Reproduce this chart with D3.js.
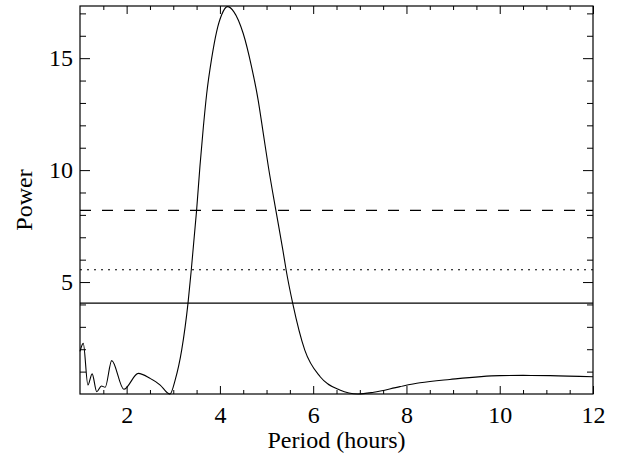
<!DOCTYPE html>
<html>
<head>
<meta charset="utf-8">
<script src="https://cdn.jsdelivr.net/npm/d3@7"></script>
<style>
  html, body { margin: 0; padding: 0; background: #fff; overflow: hidden; }
  svg { display: block; }
</style>
</head>
<body>
<div id="chart"></div>
<script>
// periodogram
var period = [1.00, 1.07, 1.17, 1.26, 1.36, 1.46, 1.54, 1.68, 1.94, 2.25, 2.50, 2.72, 2.89, 2.93,
  3.04, 3.18, 3.316, 3.386, 3.50, 3.573, 3.644, 3.716, 3.824, 3.931, 4.04, 4.16, 4.30, 4.50,
  4.68, 4.82, 4.93, 5.04, 5.20, 5.35, 5.42, 5.56, 5.82, 6.15, 6.57, 6.96, 7.30, 7.86, 8.29,
  8.93, 10.0, 10.5, 11.08, 12.0];
var power = [1.90, 2.26, 0.40, 0.90, 0.10, 0.36, 0.30, 1.49, 0.21, 0.92, 0.70, 0.40, 0.03, 0.00,
  0.62, 1.96, 4.06, 5.54, 8.20, 10.20, 11.90, 13.40, 15.00, 16.20, 16.95, 17.30, 17.07, 16.10,
  14.60, 13.13, 11.64, 10.14, 8.20, 6.43, 5.54, 4.06, 1.96, 0.77, 0.18, 0.00, 0.08, 0.33, 0.50,
  0.65, 0.82, 0.83, 0.82, 0.77];

// significance levels
var levels = [8.2, 5.55, 4.06];
var levelDash = ["11,11", "2,5", null];

var xMajor = [2, 4, 6, 8, 10, 12];
var xMinor = [1.5, 2.5, 3, 3.5, 4.5, 5, 5.5, 6.5, 7, 7.5, 8.5, 9, 9.5, 10.5, 11, 11.5];
var yMajor = [5, 10, 15];
var yMinor = [1, 2, 3, 4, 6, 7, 8, 9, 11, 12, 13, 14, 16, 17];

var width = 617, height = 455;
var margin = { top: 6, right: 24, bottom: 61, left: 80 },
    innerWidth = width - margin.left - margin.right,
    innerHeight = height - margin.top - margin.bottom;
var serif = "Liberation Serif";

var svg = d3.select("#chart").append("svg")
  .attr("width", width)
  .attr("height", height)
  .attr("font-family", serif);

var g = svg.append("g")
  .attr("transform", "translate(" + margin.left + "," + margin.top + ")");

var x = d3.scaleLinear().domain([1, 12]).range([0, innerWidth]);
var y = d3.scaleLinear().domain([0, 17.33]).range([innerHeight, 0]);

function tidy(sel) {
  sel.attr("font-family", serif).attr("font-size", 24);
  sel.select(".domain").remove();
  sel.selectAll("line").attr("stroke", "#000").attr("stroke-width", 1);
  sel.selectAll("text").attr("fill", "#000");
}
function bare(sel) {
  tidy(sel);
  sel.selectAll("text").remove();
}

// bottom
g.append("g").attr("transform", "translate(0," + innerHeight + ")")
  .call(d3.axisBottom(x).tickValues(xMajor).tickSize(-8).tickSizeOuter(0).tickPadding(12).tickFormat(d3.format("d")))
  .call(tidy);
g.append("g").attr("transform", "translate(0," + innerHeight + ")")
  .call(d3.axisBottom(x).tickValues(xMinor).tickSize(-4).tickSizeOuter(0))
  .call(bare);
// top
g.append("g")
  .call(d3.axisTop(x).tickValues(xMajor).tickSize(-8).tickSizeOuter(0))
  .call(bare);
g.append("g")
  .call(d3.axisTop(x).tickValues(xMinor).tickSize(-4).tickSizeOuter(0))
  .call(bare);
// left
g.append("g")
  .call(d3.axisLeft(y).tickValues(yMajor).tickSize(-10).tickSizeOuter(0).tickPadding(7).tickFormat(d3.format("d")))
  .call(tidy);
g.append("g")
  .call(d3.axisLeft(y).tickValues(yMinor).tickSize(-6).tickSizeOuter(0))
  .call(bare);
// right
g.append("g").attr("transform", "translate(" + innerWidth + ",0)")
  .call(d3.axisRight(y).tickValues(yMajor).tickSize(-10).tickSizeOuter(0))
  .call(bare);
g.append("g").attr("transform", "translate(" + innerWidth + ",0)")
  .call(d3.axisRight(y).tickValues(yMinor).tickSize(-6).tickSizeOuter(0))
  .call(bare);

// threshold lines
g.selectAll(".level")
  .data(levels)
  .enter()
  .append("line")
    .attr("class", "level")
    .attr("x1", 0)
    .attr("x2", innerWidth)
    .attr("y1", d => y(d))
    .attr("y2", d => y(d))
    .attr("stroke", "#000")
    .attr("stroke-width", 1.2)
    .attr("stroke-dasharray", (d, i) => levelDash[i]);

var pts = period.map((p, i) => [p, power[i]]);
var line = d3.line()
  .x(d => x(d[0]))
  .y(d => y(d[1]))
  .curve(d3.curveMonotoneX);

g.append("path")
  .datum(pts)
  .attr("fill", "none")
  .attr("stroke", "#000")
  .attr("stroke-width", 1.1)
  .attr("d", line);

// frame
g.append("rect")
  .attr("width", innerWidth)
  .attr("height", innerHeight)
  .attr("fill", "none")
  .attr("stroke", "#000")
  .attr("stroke-width", 1.2);

// axis titles
svg.append("text")
  .attr("x", margin.left + innerWidth / 2)
  .attr("y", 448)
  .attr("text-anchor", "middle")
  .attr("font-size", 24)
  .text("Period (hours)");

svg.append("text")
  .attr("transform", "translate(32," + (margin.top + innerHeight / 2) + ") rotate(-90)")
  .attr("text-anchor", "middle")
  .attr("font-size", 24)
  .text("Power");
</script>
</body>
</html>
